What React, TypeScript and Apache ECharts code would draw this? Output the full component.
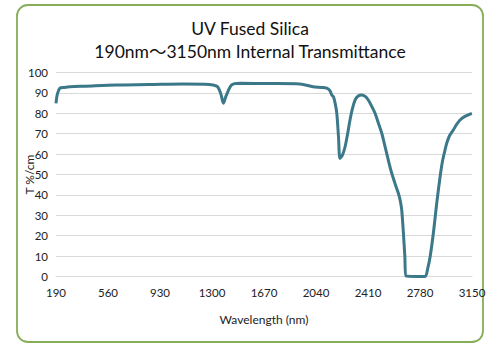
import React, { useEffect, useRef } from "react";
import * as echarts from "echarts";

const titleLines = ["UV Fused Silica", "190nm～3150nm Internal Transmittance"];
const xAxisName = "Wavelength (nm)";
const yAxisName = "T %/cm";
const xTickLabels = [190, 560, 930, 1300, 1670, 2040, 2410, 2780, 3150];

const wavelength = [
  190, 200, 218, 250, 290, 400, 622, 850, 1094, 1250, 1307, 1340, 1365, 1381, 1400, 1440, 1499,
  1700, 1926, 2019, 2080, 2116, 2140, 2152, 2164, 2176, 2188, 2200, 2211, 2228, 2247, 2265, 2282,
  2300, 2318, 2340, 2365, 2390, 2412, 2436, 2460, 2485, 2508, 2525, 2543, 2560, 2579, 2605, 2626,
  2640, 2650, 2662, 2672, 2681, 2750, 2816, 2835, 2852, 2875, 2899, 2923, 2940, 2958, 2970, 2990,
  3017, 3040, 3065, 3100, 3149,
];
const transmittance = [
  84.9, 89.5, 92.3, 92.7, 93.0, 93.3, 93.9, 94.1, 94.4, 94.3, 93.9, 93.0, 89.0, 84.9, 88.5, 93.9, 94.7,
  94.6, 94.4, 93.0, 92.7, 92.3, 91.0, 89.0, 88.1, 85.0, 80.0, 68.5, 57.9, 59.5, 63.6, 70.0, 76.7,
  82.5, 86.5, 88.5, 89.0, 88.3, 86.5, 83.5, 80.0, 75.0, 70.2, 65.5, 60.4, 55.5, 50.6, 45.0, 40.8,
  37.0, 32.6, 21.2, 10.0, 0.2, 0, 0, 4.0, 9.7, 21.2, 35.9, 48.9, 56.5, 62.0, 65.3, 69.0,
  71.8, 74.5, 76.7, 78.5, 80.0,
];

const FONT = "Lato, 'Noto Sans CJK JP', sans-serif";

export default function App() {
  const ref = useRef<HTMLDivElement>(null);
  useEffect(() => {
    if (!ref.current) return;
    const chart = echarts.init(ref.current, null, { renderer: "svg" });
    const data = wavelength.map((w, i) => [w, transmittance[i]]);
    chart.setOption({
      animation: false,
      backgroundColor: "#ffffff",
      textStyle: { fontFamily: FONT },
      graphic: [
        {
          type: "rect",
          shape: { x: 17, y: 5, width: 466, height: 337, r: 11 },
          style: { fill: "none", stroke: "#86ad57", lineWidth: 1.8 },
          z: 0,
          silent: true,
        },
      ],
      title: {
        text: titleLines.join("\n"),
        left: "center",
        top: 12,
        textStyle: {
          fontFamily: FONT,
          fontSize: 17.5,
          fontWeight: "normal",
          color: "#111111",
          lineHeight: 23,
        },
      },
      grid: { left: 56, right: 28, top: 72.5, bottom: 73.5, containLabel: false },
      xAxis: {
        type: "value",
        min: 190,
        max: 3150,
        name: xAxisName,
        nameLocation: "middle",
        nameGap: 37,
        nameTextStyle: { fontFamily: FONT, fontSize: 12, color: "#222222" },
        axisLine: { show: true, lineStyle: { color: "#d9d9d9", width: 1 } },
        axisTick: { show: false },
        splitLine: { show: false },
        axisLabel: {
          customValues: xTickLabels,
          formatter: (v: number) => String(v),
          fontFamily: FONT,
          fontSize: 11.5,
          color: "#222222",
          margin: 10,
        },
      },
      yAxis: {
        type: "value",
        min: 0,
        max: 100,
        interval: 10,
        name: yAxisName,
        nameLocation: "middle",
        nameGap: 21,
        nameMoveOverlap: false,
        nameTextStyle: { fontFamily: FONT, fontSize: 12, color: "#222222" },
        axisLine: { show: false },
        axisTick: { show: false },
        splitLine: { lineStyle: { color: "#d9d9d9", width: 1 } },
        axisLabel: { fontFamily: FONT, fontSize: 11.5, color: "#222222", margin: 8 },
      },
      series: [
        {
          type: "line",
          data,
          showSymbol: false,
          smooth: 0.3,
          lineStyle: { color: "#3b7889", width: 3 },
          itemStyle: { color: "#3b7889" },
        },
      ],
    });
    return () => chart.dispose();
  }, []);
  return (
    <div
      ref={ref}
      style={{ position: "fixed", left: 0, top: 0, width: 500, height: 350 }}
    />
  );
}
